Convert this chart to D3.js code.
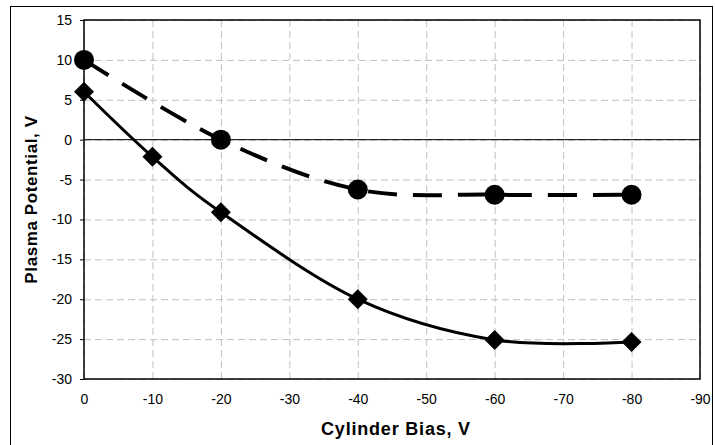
<!DOCTYPE html>
<html>
<head>
<meta charset="utf-8">
<script src="https://cdn.jsdelivr.net/npm/d3@7"></script>
<style>
  body { margin: 0; background: #fff; }
  text { font-family: "Liberation Sans", Arial, sans-serif; }
  .grid line { stroke: #c0c0c0; stroke-dasharray: 7,4; }
  .grid path { display: none; }
</style>
</head>
<body>
<div class="chart"></div>
<script>
// data
const biasX = [0, -10, -20, -40, -60, -80];
const diamondY = [6, -2.15, -9.1, -20, -25.1, -25.35];
const circleX = [0, -20, -40, -60, -80];
const circleY = [10, 0, -6.25, -6.9, -6.9];
const xTicks = [0, -10, -20, -30, -40, -50, -60, -70, -80, -90];
const yTicks = [15, 10, 5, 0, -5, -10, -15, -20, -25, -30];

const W = 715, H = 445;
const margin = {top: 20, right: 15, bottom: 66, left: 84};
const width = 700 - margin.left;
const height = 379 - margin.top;

const root = d3.select(".chart").append("svg")
    .attr("width", W)
    .attr("height", H);

// outer chart border
root.append("rect")
    .attr("x", 10.5).attr("y", 6.5)
    .attr("width", 702).attr("height", 440)
    .attr("fill", "none")
    .attr("stroke", "#000")
    .attr("stroke-width", 1);

const svg = root.append("g")
    .attr("transform", `translate(${margin.left},${margin.top})`);

const x = d3.scaleLinear().domain([0, -90]).range([0, width]);
const y = d3.scaleLinear().domain([-30, 15]).range([height, 0]);

// grid
svg.append("g")
    .attr("class", "grid")
    .attr("transform", `translate(0,${height})`)
    .call(d3.axisBottom(x).tickValues(xTicks).tickSize(-height).tickFormat(""));
svg.append("g")
    .attr("class", "grid")
    .call(d3.axisLeft(y).tickValues(yTicks).tickSize(-width).tickFormat(""));

// zero line
svg.append("line")
    .attr("x1", 0).attr("x2", width)
    .attr("y1", y(0)).attr("y2", y(0))
    .attr("stroke", "#000").attr("stroke-width", 1);

// plot frame
svg.append("rect")
    .attr("x", 0).attr("y", 0)
    .attr("width", width).attr("height", height)
    .attr("fill", "none")
    .attr("stroke", "#000")
    .attr("stroke-width", 1.5);

// axes labels (plain hyphen minus like the original)
const fmt = d => String(d);

const yAxis = svg.append("g")
    .call(d3.axisLeft(y).tickValues(yTicks).tickSize(4).tickPadding(8).tickFormat(fmt));
yAxis.select(".domain").remove();
yAxis.selectAll("text").attr("font-size", 14).attr("fill", "#000")
    .attr("font-family", "Liberation Sans, Arial, sans-serif");
yAxis.selectAll("line").attr("stroke", "#000");

const xAxis = svg.append("g")
    .attr("transform", `translate(0,${height})`)
    .call(d3.axisBottom(x).tickValues(xTicks).tickSize(0).tickPadding(15).tickFormat(fmt));
xAxis.select(".domain").remove();
xAxis.selectAll("text").attr("font-size", 14).attr("fill", "#000")
    .attr("font-family", "Liberation Sans, Arial, sans-serif");

// titles
root.append("text")
    .attr("x", 396).attr("y", 429)
    .attr("text-anchor", "middle")
    .attr("dominant-baseline", "central")
    .attr("font-weight", "bold")
    .attr("font-size", 18)
    .attr("letter-spacing", 0.8)
    .text("Cylinder Bias, V");

root.append("text")
    .attr("transform", `translate(31,${margin.top + height / 2}) rotate(-90)`)
    .attr("text-anchor", "middle")
    .attr("dominant-baseline", "central")
    .attr("font-weight", "bold")
    .attr("font-size", 17)
    .attr("letter-spacing", 0.6)
    .text("Plasma Potential, V");

// series
const diamonds = biasX.map((v, i) => ({x: v, y: diamondY[i]}));
const circles = circleX.map((v, i) => ({x: v, y: circleY[i]}));

const line = d3.line()
    .x(d => x(d.x))
    .y(d => y(d.y))
    .curve(d3.curveCardinal.tension(0));

svg.append("path")
    .datum(circles)
    .attr("fill", "none")
    .attr("stroke", "#000")
    .attr("stroke-width", 4)
    .attr("stroke-dasharray", "29,16")
    .attr("d", line);

svg.append("path")
    .datum(diamonds)
    .attr("fill", "none")
    .attr("stroke", "#000")
    .attr("stroke-width", 3)
    .attr("d", line);

svg.selectAll(".dia")
    .data(diamonds)
    .enter().append("path")
    .attr("class", "dia")
    .attr("transform", d => `translate(${x(d.x)},${y(d.y)})`)
    .attr("d", "M0,-10L10,0L0,10L-10,0Z")
    .attr("fill", "#000");

svg.selectAll(".dot")
    .data(circles)
    .enter().append("circle")
    .attr("class", "dot")
    .attr("cx", d => x(d.x))
    .attr("cy", d => y(d.y))
    .attr("r", 10)
    .attr("fill", "#000");
</script>
</body>
</html>
